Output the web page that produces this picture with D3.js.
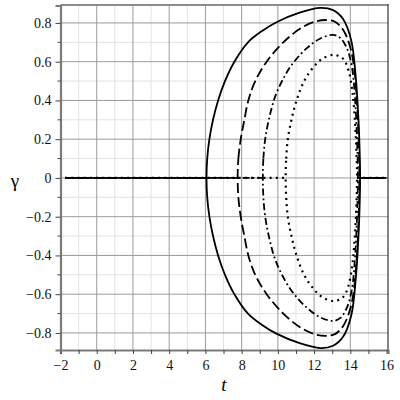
<!DOCTYPE html>
<html>
<head>
<meta charset="utf-8">
<script src="https://cdn.jsdelivr.net/npm/d3@7"></script>
<style>
  html, body { margin: 0; padding: 0; background: #fff; }
  .serif { font-family: "Times New Roman", "Liberation Serif", Tinos, "DejaVu Serif", serif; }
</style>
</head>
<body>
<div id="chart"></div>
<script>
/* ===== DATA (upper half of each loop, t vs gamma; lower half is the mirror) ===== */
const solidLoop = [
    [6.06, 0], [6.1, 0.1], [6.22, 0.2], [6.42, 0.3], [6.7, 0.4], [7.08, 0.5],
    [7.6, 0.6], [8.35, 0.7], [9.15, 0.76], [9.95, 0.805], [11.2, 0.853],
    [12.35, 0.878], [13.05, 0.866], [13.6, 0.82], [14.05, 0.71], [14.3, 0.52],
    [14.45, 0.3], [14.52, 0.12], [14.54, 0]
];
const dashedLoop = [
    [7.78, 0], [7.82, 0.1], [7.95, 0.2], [8.15, 0.3], [8.37, 0.4], [8.75, 0.5],
    [9.38, 0.6], [10.3, 0.7], [11.3, 0.775], [12.1, 0.808], [12.65, 0.815],
    [13.15, 0.806], [13.6, 0.765], [13.98, 0.68], [14.2, 0.575], [14.36, 0.4],
    [14.46, 0.2], [14.5, 0]
];
const dashDotLoop = [
    [9.17, 0], [9.2, 0.1], [9.3, 0.2], [9.5, 0.3], [9.85, 0.42], [10.4, 0.53],
    [10.9, 0.6], [11.6, 0.67], [12.35, 0.72], [13.05, 0.738], [13.45, 0.722],
    [13.8, 0.672], [14.08, 0.578], [14.26, 0.41], [14.37, 0.2], [14.42, 0]
];
const dottedLoop = [
    [10.43, 0], [10.46, 0.1], [10.55, 0.2], [10.75, 0.3], [11.03, 0.4],
    [11.45, 0.5], [11.95, 0.57], [12.45, 0.615], [13.1, 0.635], [13.6, 0.615],
    [13.9, 0.555], [14.12, 0.44], [14.25, 0.3], [14.33, 0.15], [14.37, 0]
];

const tStart = -1.75;
const tEnd = 16;

const xTicks = [-2, 0, 2, 4, 6, 8, 10, 12, 14, 16];
const yTicks = [-0.8, -0.6, -0.4, -0.2, 0, 0.2, 0.4, 0.6, 0.8];

const series = [
    { pts: solidLoop, dash: null, w: 1.8 },
    { pts: dashedLoop, dash: "10,4", w: 1.8 },
    { pts: dashDotLoop, dash: "7,3,1.8,3", w: 1.8 },
    { pts: dottedLoop, dash: "2,4.2", w: 2.2 }
];

/* ===== SVG + SCALES ===== */
const width = 400;
const height = 400;

const svg = d3.select("#chart")
    .append("svg")
    .attr("width", width)
    .attr("height", height);

const x = d3.scaleLinear().domain([-2, 16.08]).range([60.5, 388]);
const y = d3.scaleLinear().domain([-0.888, 0.89]).range([350, 5.5]);

/* ===== GRID ===== */
const grid = svg.append("g");

grid.selectAll(".vminor")
    .data(d3.range(-1, 16.5, 2))
    .enter().append("line")
    .attr("x1", d => x(d)).attr("x2", d => x(d))
    .attr("y1", y.range()[0]).attr("y2", y.range()[1])
    .attr("stroke", "#e2e2e2").attr("stroke-width", 1);

grid.selectAll(".hminor")
    .data(d3.range(-0.7, 0.85, 0.2))
    .enter().append("line")
    .attr("y1", d => y(d)).attr("y2", d => y(d))
    .attr("x1", x.range()[0]).attr("x2", x.range()[1])
    .attr("stroke", "#e2e2e2").attr("stroke-width", 1);

grid.selectAll(".vmajor")
    .data(xTicks.slice(1, -1))
    .enter().append("line")
    .attr("x1", d => x(d)).attr("x2", d => x(d))
    .attr("y1", y.range()[0]).attr("y2", y.range()[1])
    .attr("stroke", "#9a9a9a").attr("stroke-width", 1);

grid.selectAll(".hmajor")
    .data(yTicks)
    .enter().append("line")
    .attr("y1", d => y(d)).attr("y2", d => y(d))
    .attr("x1", x.range()[0]).attr("x2", x.range()[1])
    .attr("stroke", "#9a9a9a").attr("stroke-width", 1);

/* ===== FRAME ===== */
svg.append("line") // top
    .attr("x1", x.range()[0]).attr("x2", x.range()[1])
    .attr("y1", 5).attr("y2", 5)
    .attr("stroke", "#8c8c8c").attr("stroke-width", 2);
svg.append("line") // right
    .attr("x1", 388).attr("x2", 388)
    .attr("y1", 4).attr("y2", 351)
    .attr("stroke", "#333").attr("stroke-width", 1.2);

/* ===== CURVES ===== */
const line = d3.line()
    .x(d => x(d[0]))
    .y(d => y(d[1]));

const loopLine = d3.line()
    .x(d => x(d[0]))
    .y(d => y(d[1]))
    .curve(d3.curveCatmullRomClosed.alpha(0.5));

const curves = svg.append("g")
    .attr("fill", "none")
    .attr("stroke", "#000");

series.forEach(s => {
    const first = s.pts[0];
    const last = s.pts[s.pts.length - 1];
    const lower = s.pts.slice(1, -1).map(p => [p[0], -p[1]]).reverse();
    const loop = s.pts.concat(lower);

    [line([[tStart, 0], first]), loopLine(loop), line([last, [tEnd, 0]])]
        .forEach(d => {
            curves.append("path")
                .attr("d", d)
                .attr("stroke-width", s.w)
                .attr("stroke-dasharray", s.dash);
        });
});

/* ===== AXES ===== */
const xAxis = svg.append("g")
    .attr("transform", `translate(0,${y.range()[0]})`)
    .call(d3.axisBottom(x)
        .tickValues(d3.range(-2, 16.5, 1))
        .tickSize(4)
        .tickFormat(d => xTicks.includes(d) ? String(d).replace("-", "\u2212") : ""));

xAxis.attr("font-family", null).attr("font-size", null).attr("class", "serif");
xAxis.select(".domain").attr("stroke", "#7a7a7a").attr("stroke-width", 2.2);
xAxis.selectAll(".tick line").attr("stroke", "#444");
xAxis.selectAll(".tick text")
    .attr("font-size", 14)
    .attr("fill", "#111")
    .attr("dy", "0.9em");

const yAxis = svg.append("g")
    .attr("transform", `translate(${x.range()[0]},0)`)
    .call(d3.axisLeft(y)
        .tickValues(yTicks)
        .tickSize(5)
        .tickPadding(4)
        .tickFormat(d => d === 0 ? "0" : d3.format(".1f")(d).replace("-", "\u2212")));

yAxis.attr("font-family", null).attr("font-size", null).attr("class", "serif");
yAxis.select(".domain").attr("stroke", "#7a7a7a").attr("stroke-width", 2.2);
yAxis.selectAll(".tick line").attr("stroke", "#444");
yAxis.selectAll(".tick text")
    .attr("font-size", 14)
    .attr("fill", "#111");

// minor y ticks
svg.append("g").selectAll("line")
    .data(d3.range(-0.7, 0.85, 0.2))
    .enter().append("line")
    .attr("x1", x.range()[0] - 3).attr("x2", x.range()[0])
    .attr("y1", d => y(d)).attr("y2", d => y(d))
    .attr("stroke", "#444");

/* ===== AXIS TITLES ===== */
svg.append("text")
    .attr("class", "serif")
    .attr("x", 224)
    .attr("y", 391)
    .attr("text-anchor", "middle")
    .attr("font-style", "italic")
    .attr("font-size", 19)
    .text("t");

svg.append("text")
    .attr("class", "serif")
    .attr("x", 15)
    .attr("y", 187)
    .attr("text-anchor", "middle")
    .attr("font-size", 19)
    .text("γ");
</script>
</body>
</html>
